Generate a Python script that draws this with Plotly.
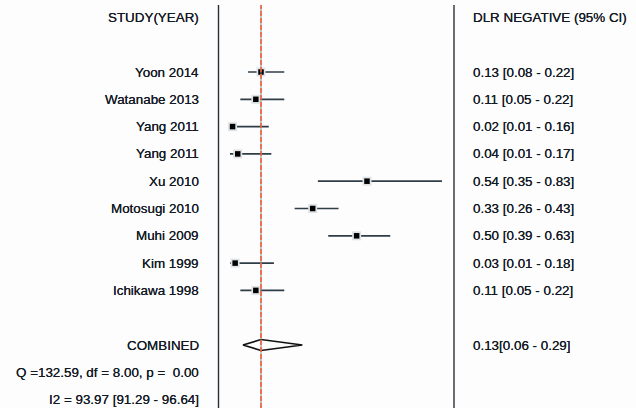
import plotly.graph_objects as go

# Study data: diagnostic likelihood ratio (negative) with 95% CI
studies = ["Yoon 2014", "Watanabe 2013", "Yang 2011", "Yang 2011", "Xu 2010",
           "Motosugi 2010", "Muhi 2009", "Kim 1999", "Ichikawa 1998"]
estimate = [0.13, 0.11, 0.02, 0.04, 0.54, 0.33, 0.50, 0.03, 0.11]
lower = [0.08, 0.05, 0.01, 0.01, 0.35, 0.26, 0.39, 0.01, 0.05]
upper = [0.22, 0.22, 0.16, 0.17, 0.83, 0.43, 0.63, 0.18, 0.22]

combined_est = 0.13
combined_lo = 0.06
combined_hi = 0.29

heterogeneity = ["Q =132.59, df = 8.00, p =  0.00", "I2 = 93.97 [91.29 - 96.64]"]

# Row layout (row index grows downward)
study_rows = list(range(2, 2 + len(studies)))
combined_row = study_rows[-1] + 2
stat_rows = [combined_row + 1, combined_row + 2]

W, H = 636, 408
FONT = "Liberation Sans, Arial, sans-serif"
TXT = "#141a24"
LINE = "#2e3d46"

# axis ranges: x in DLR units, y in row units
px_per_unit = 258.5
x0_px = 227.4
x_range = [-x0_px / px_per_unit, (W - x0_px) / px_per_unit]
row_h = 27.3
row0_px = 17.4
y_range = [(H - row0_px) / row_h, -row0_px / row_h]

fig = go.Figure()

# reference line at the pooled estimate: thin grey under red dashes
fig.add_shape(type="line", xref="x", yref="paper", x0=combined_est, x1=combined_est,
              y0=0, y1=(H - 5) / H, line=dict(color="#8a8f96", width=1))
fig.add_shape(type="line", xref="x", yref="paper", x0=combined_est, x1=combined_est,
              y0=0, y1=(H - 5) / H, line=dict(color="#f0603c", width=1.6, dash="5px,2px"))

# panel frame lines
for xp in (218.5, 454):
    fig.add_shape(type="line", xref="paper", yref="paper", x0=xp / W, x1=xp / W,
                  y0=0, y1=(H - 5) / H, line=dict(color="#2a2f36", width=1.4))

# study CIs with point estimates
fig.add_trace(go.Scatter(
    x=estimate, y=study_rows, mode="markers",
    marker=dict(symbol="square", size=9, color="#dfe3e6", line=dict(width=0)),
    error_x=dict(type="data", symmetric=False,
                 array=[u - e for u, e in zip(upper, estimate)],
                 arrayminus=[e - l for e, l in zip(estimate, lower)],
                 color=LINE, thickness=1.7, width=0),
    hoverinfo="skip", showlegend=False))
fig.add_trace(go.Scatter(
    x=estimate, y=study_rows, mode="markers",
    marker=dict(symbol="square", size=5.5, color="#000000", line=dict(width=0)),
    hoverinfo="skip", showlegend=False))

# pooled estimate diamond
dh = 0.2
fig.add_trace(go.Scatter(
    x=[combined_lo, combined_est, combined_hi, combined_est, combined_lo],
    y=[combined_row, combined_row - dh, combined_row, combined_row + dh, combined_row],
    mode="lines", line=dict(color="#111111", width=1.6),
    hoverinfo="skip", showlegend=False))

def label(text, row, xpx, anchor):
    fig.add_annotation(x=xpx / W, xref="paper", y=row, yref="y", text=text,
                       showarrow=False, xanchor=anchor, yanchor="middle",
                       font=dict(family=FONT, size=13.4, color=TXT,
                                 shadow="0px 0px 0.6px #141a24"))

label("STUDY(YEAR)", 0, 201, "right")
label("DLR NEGATIVE (95% CI)", 0, 470.5, "left")
for name, r, e, lo, hi in zip(studies, study_rows, estimate, lower, upper):
    label(name, r, 201, "right")
    label(f"{e:.2f} [{lo:.2f} - {hi:.2f}]", r, 470.5, "left")
label("COMBINED", combined_row, 201, "right")
label(f"{combined_est:.2f}[{combined_lo:.2f} - {combined_hi:.2f}]", combined_row, 470.5, "left")
for t, r in zip(heterogeneity, stat_rows):
    label(t, r, 201, "right")

fig.update_layout(
    width=W, height=H, margin=dict(l=0, r=0, t=0, b=0),
    paper_bgcolor="#fdfdfe", plot_bgcolor="#fdfdfe",
    xaxis=dict(range=x_range, visible=False, fixedrange=True),
    yaxis=dict(range=y_range, visible=False, fixedrange=True),
    showlegend=False,
)

fig.write_html("out.html")
